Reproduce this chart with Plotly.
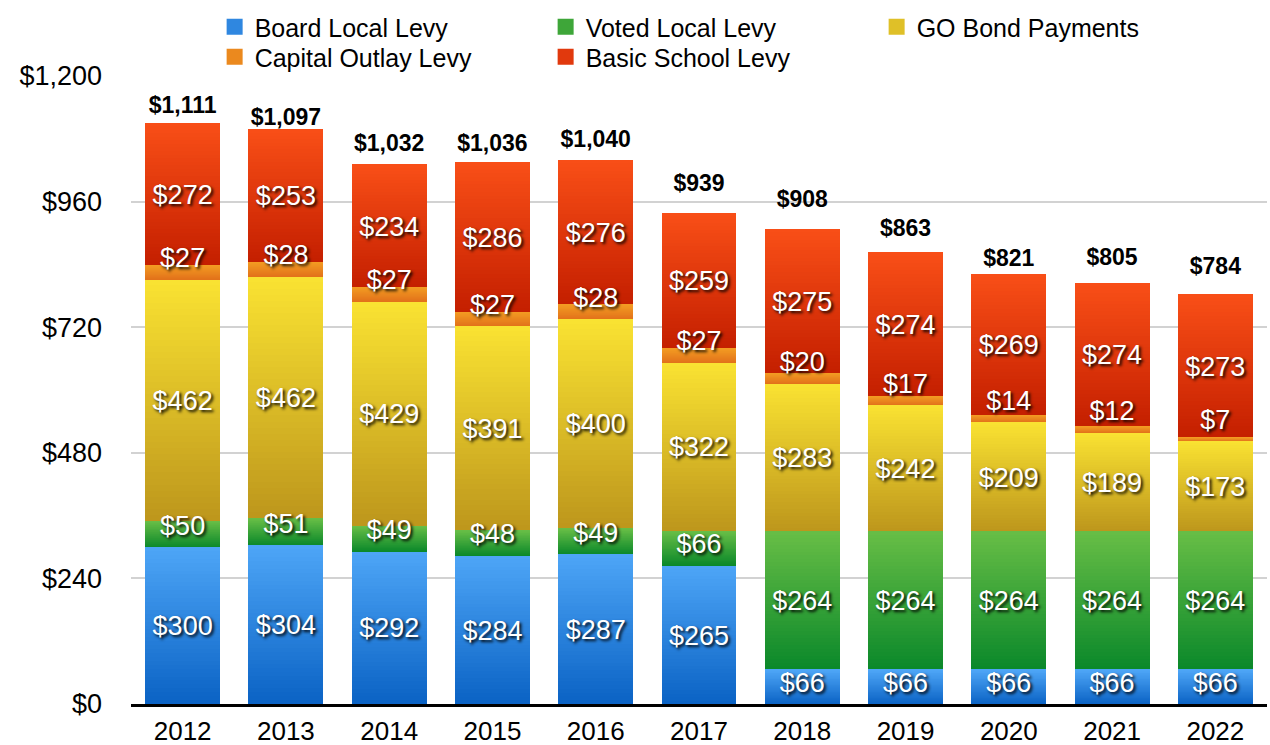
import plotly.graph_objects as go

# ---- data -------------------------------------------------------------
years = ["2012", "2013", "2014", "2015", "2016", "2017",
         "2018", "2019", "2020", "2021", "2022"]
board_local = [300, 304, 292, 284, 287, 265, 66, 66, 66, 66, 66]
voted_local = [50, 51, 49, 48, 49, 66, 264, 264, 264, 264, 264]
go_bond = [462, 462, 429, 391, 400, 322, 283, 242, 209, 189, 173]
capital_outlay = [27, 28, 27, 27, 28, 27, 20, 17, 14, 12, 7]
basic_school = [272, 253, 234, 286, 276, 259, 275, 274, 269, 274, 273]
totals = [1111, 1097, 1032, 1036, 1040, 939, 908, 863, 821, 805, 784]
y_ticks = [0, 240, 480, 720, 960, 1200]
y_tick_text = ["$0", "$240", "$480", "$720", "$960", "$1,200"]

# name, values, bottom colour, top colour, legend row
series = [
    ("Board Local Levy", board_local, "#0a62c4", "#4ea6f7", "legend"),
    ("Voted Local Levy", voted_local, "#0a882a", "#68be46", "legend"),
    ("GO Bond Payments", go_bond, "#bd961c", "#fae332", "legend"),
    ("Capital Outlay Levy", capital_outlay, "#e2711a", "#f39c22", "legend2"),
    ("Basic School Levy", basic_school, "#c41f00", "#f94f17", "legend2"),
]

FONT = "Helvetica, Arial, Liberation Sans, sans-serif"
SLICES = 40          # shading steps per segment
LABEL_LIFT = 42      # minimum distance (data units) of a label above its segment base
LABEL_NUDGE = -6     # small vertical correction of the centred labels
# how far (data units) each total caption floats above its bar
TOTAL_LIFT = [36, 27, 42, 38, 42, 58, 59, 49, 33, 51, 55]


def hex_rgb(h):
    h = h.lstrip("#")
    return tuple(int(h[i:i + 2], 16) for i in (0, 2, 4))


def mix(c0, c1, t):
    a, b = hex_rgb(c0), hex_rgb(c1)
    return "rgb(%d,%d,%d)" % tuple(round(a[i] + (b[i] - a[i]) * t) for i in range(3))


fig = go.Figure()

# stacked bars, each segment built from thin slices going dark -> light upward
for name, vals, c_bot, c_top, lg in series:
    for k in range(SLICES):
        fig.add_trace(go.Bar(
            x=years,
            y=[v / SLICES for v in vals],
            marker=dict(color=mix(c_bot, c_top, (k + 0.5) / SLICES), line=dict(width=0)),
            showlegend=False,
            hoverinfo="skip",
        ))

# legend entries (two rows)
for name, vals, c_bot, c_top, lg in series:
    fig.add_trace(go.Scatter(
        x=[None], y=[None], mode="markers", name=name, legend=lg,
        marker=dict(symbol="square", size=18, color=mix(c_bot, c_top, 0.55)),
    ))

# segment value labels
base = [0] * len(years)
for name, vals, c_bot, c_top, lg in series:
    ys = [max(b + v / 2, b + LABEL_LIFT) + LABEL_NUDGE for b, v in zip(base, vals)]
    fig.add_trace(go.Scatter(
        x=years, y=ys, mode="text",
        text=[f"${v:,}" for v in vals],
        textposition="middle center",
        textfont=dict(family=FONT, size=27, color="white",
                      shadow="2px 2px 3px rgba(0,0,0,0.95)"),
        showlegend=False, hoverinfo="skip", cliponaxis=False,
    ))
    base = [b + v for b, v in zip(base, vals)]

# totals above each bar
fig.add_trace(go.Scatter(
    x=years, y=[t + d + LABEL_NUDGE for t, d in zip(totals, TOTAL_LIFT)],
    mode="text",
    text=[f"<b>${t:,}</b>" for t in totals],
    textposition="middle center",
    textfont=dict(family=FONT, size=23, color="black"),
    showlegend=False, hoverinfo="skip", cliponaxis=False,
))

legend_common = dict(
    orientation="h", traceorder="normal",
    xref="container", yref="container",
    x=0.169, xanchor="left", yanchor="middle",
    entrywidth=286, entrywidthmode="pixels",
    font=dict(family=FONT, size=25, color="black"),
    itemclick=False, itemdoubleclick=False,
    bgcolor="rgba(0,0,0,0)",
)

fig.update_layout(
    width=1270, height=745,
    margin=dict(l=131, r=3, t=76, b=41, autoexpand=False),
    barmode="stack",
    bargap=0.274,
    plot_bgcolor="white",
    paper_bgcolor="white",
    font=dict(family=FONT, color="black"),
    legend=dict(legend_common, y=1 - 27 / 745),
    legend2=dict(legend_common, y=1 - 57 / 745),
    xaxis=dict(
        type="category", range=[-0.5, 10.5],
        showline=True, linecolor="black", linewidth=3,
        ticks="", showgrid=False,
        tickfont=dict(family=FONT, size=26, color="black"),
        ticklabelstandoff=2,
    ),
    yaxis=dict(
        range=[0, 1200], tickmode="array",
        tickvals=y_ticks, ticktext=y_tick_text,
        showgrid=True, gridcolor="#d2d2d2", gridwidth=1.5,
        zeroline=False, showline=False, ticks="",
        tickfont=dict(family=FONT, size=27, color="black"),
        ticklabelstandoff=28,
    ),
)

fig.write_html("out.html")
